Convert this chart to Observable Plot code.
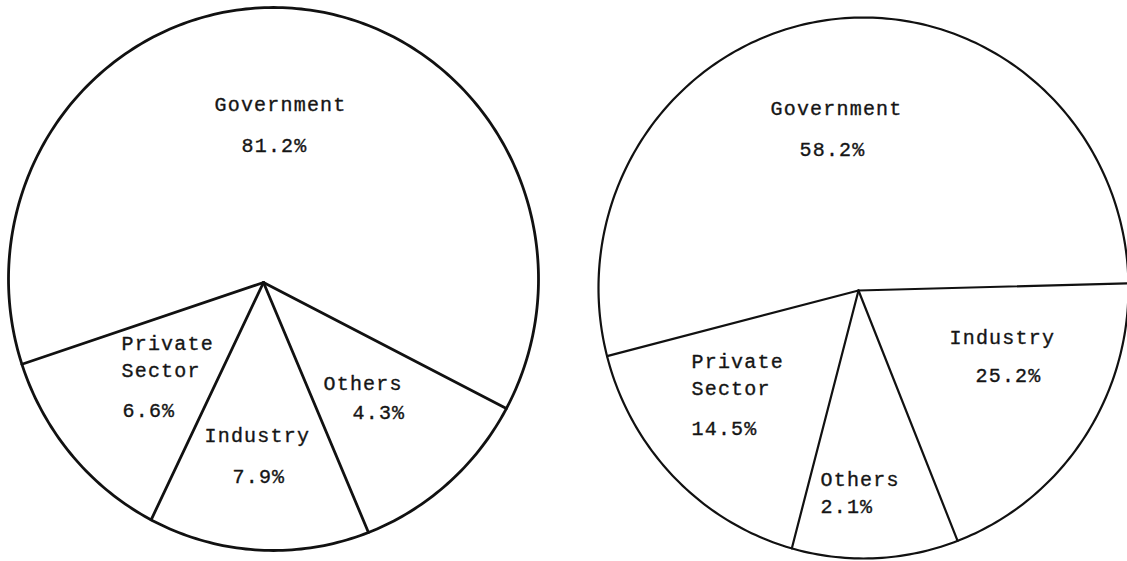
<!DOCTYPE html>
<html>
<head>
<meta charset="utf-8">
<script src="https://cdn.jsdelivr.net/npm/d3@7"></script>
<script src="https://cdn.jsdelivr.net/npm/@observablehq/plot@0.6"></script>
<style>
  html, body { margin: 0; padding: 0; background: #ffffff; }
  #chart svg { display: block; }
</style>
</head>
<body>
<div id="chart"></div>
<script>
// ---- Data (slices listed clockwise, starting with Government) ----
const leftCategories = ["Government", "Others", "Industry", "Private Sector"];
const leftValues = [81.2, 4.3, 7.9, 6.6];                 // printed percentages
const leftDrawnSweepDeg = [226.8, 40.5, 48.5, 44.2];       // slice angles as drawn in the picture

const rightCategories = ["Government", "Industry", "Others", "Private Sector"];
const rightValues = [58.2, 25.2, 2.1, 14.5];
const rightDrawnSweepDeg = [193.6, 70.2, 36.5, 59.7];

// ---- Layout (positions, sizes, styles) ----
const W = 1127, H = 561;
const layout = {
  left: {
    cx: 273, cy: 278.5, rx: 265, ry: 271.5, apex: [263, 282], start: 251.7, stroke: 2.8,
    labels: {
      "Government":     {x: 214, y: 110, px: 241, py: 151},
      "Others":         {x: 323, y: 389, px: 352, py: 418},
      "Industry":       {x: 204, y: 441, px: 232, py: 482},
      "Private Sector": {x: 121, y: 349, px: 122, py: 416}
    }
  },
  right: {
    cx: 863, cy: 287.5, rx: 265, ry: 270.5, apex: [858, 290], start: 255.4, stroke: 2.2,
    labels: {
      "Government":     {x: 770, y: 114, px: 799, py: 155},
      "Industry":       {x: 949, y: 343, px: 975, py: 381},
      "Others":         {x: 820, y: 485, px: 820, py: 512},
      "Private Sector": {x: 691, y: 367, px: 691, py: 434}
    }
  }
};
const lineGap = 27;

const pies = [
  {key: "left", categories: leftCategories, values: leftValues, sweeps: leftDrawnSweepDeg},
  {key: "right", categories: rightCategories, values: rightValues, sweeps: rightDrawnSweepDeg}
];

const rad = d => d * Math.PI / 180;
function onRim(L, deg) {
  return [L.cx + L.rx * Math.sin(rad(deg)), L.cy - L.ry * Math.cos(rad(deg))];
}

const marks = [];
for (const pie of pies) {
  const L = layout[pie.key];
  // outline of the pie
  const rim = d3.range(0, 361, 1).map(a => {
    const [x, y] = onRim(L, a);
    return {x, y};
  });
  marks.push(Plot.line(rim, {x: "x", y: "y", stroke: "#111", strokeWidth: L.stroke, curve: "linear-closed"}));

  // slice boundaries
  let acc = L.start;
  const bounds = [];
  pie.sweeps.forEach((s, i) => {
    const [x2, y2] = onRim(L, acc);
    bounds.push({x1: L.apex[0], y1: L.apex[1], x2, y2, cat: pie.categories[i]});
    acc += s;
  });
  marks.push(Plot.link(bounds, {x1: "x1", y1: "y1", x2: "x2", y2: "y2", stroke: "#111", strokeWidth: L.stroke, strokeLinecap: "round"}));

  // labels
  const texts = [];
  pie.categories.forEach((c, i) => {
    const p = L.labels[c];
    c.split(" ").forEach((w, j) => texts.push({x: p.x, y: p.y + j * lineGap, t: w}));
    texts.push({x: p.px, y: p.py, t: pie.values[i].toFixed(1) + "%"});
  });
  marks.push(Plot.text(texts, {
    x: "x", y: "y", text: "t", textAnchor: "start", lineAnchor: "bottom",
    fill: "#151515", stroke: "#151515", strokeWidth: 0.35,
    fontSize: 20, fontFamily: "'Liberation Mono', 'DejaVu Sans Mono', monospace"
  }));
}

const chart = Plot.plot({
  width: W, height: H,
  margin: 0,
  x: {type: "linear", domain: [0, W], range: [0, W], axis: null},
  y: {type: "linear", domain: [0, H], range: [0, H], axis: null},
  style: {background: "#ffffff", letterSpacing: "1.2px", overflow: "hidden"},
  marks
});
document.getElementById("chart").appendChild(chart);
</script>
</body>
</html>
